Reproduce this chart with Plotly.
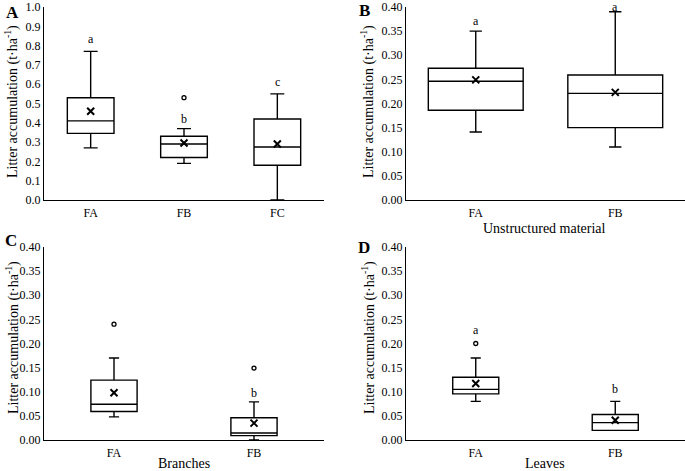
import plotly.graph_objects as go

# panel A - total litter
cats_a = ["FA", "FB", "FC"]
a_q1 = [0.345, 0.22, 0.18]
a_med = [0.41, 0.29, 0.275]
a_q3 = [0.53, 0.33, 0.42]
a_lo = [0.27, 0.19, 0.0]
a_hi = [0.77, 0.37, 0.55]
a_mean = [0.46, 0.295, 0.29]
a_out_x = ["FB"]
a_out_y = [0.53]
a_let = ["a", "b", "c"]
a_let_y = [0.835, 0.42, 0.61]

# panel B - unstructured material
cats_b = ["FA", "FB"]
b_q1 = [0.186, 0.15]
b_med = [0.246, 0.221]
b_q3 = [0.273, 0.259]
b_lo = [0.141, 0.11]
b_hi = [0.35, 0.39]
b_mean = [0.249, 0.223]
b_let = ["a", "a"]
b_let_y = [0.37, 0.40]

# panel C - branches
cats_c = ["FA", "FB"]
c_q1 = [0.059, 0.009]
c_med = [0.074, 0.0145]
c_q3 = [0.124, 0.046]
c_lo = [0.048, 0.0]
c_hi = [0.17, 0.079]
c_mean = [0.098, 0.035]
c_out_x = ["FA", "FB"]
c_out_y = [0.24, 0.149]
c_let_x = ["FB"]
c_let = ["b"]
c_let_y = [0.098]

# panel D - leaves
cats_d = ["FA", "FB"]
d_q1 = [0.0955, 0.02]
d_med = [0.105, 0.036]
d_q3 = [0.13, 0.053]
d_lo = [0.08, 0.02]
d_hi = [0.17, 0.08]
d_mean = [0.117, 0.041]
d_out_x = ["FA"]
d_out_y = [0.20]
d_let = ["a", "b"]
d_let_y = [0.228, 0.105]

FONT = "Liberation Serif"
W, H = 685, 471

fig = go.Figure()


def add_panel(n, cats, q1, med, q3, lo, hi, mean, width, ww, out_x=None, out_y=None):
    xa, ya = f"x{n}" if n > 1 else "x", f"y{n}" if n > 1 else "y"
    fig.add_trace(go.Box(x=cats, q1=q1, median=med, q3=q3, lowerfence=lo, upperfence=hi,
                         width=width, whiskerwidth=ww, fillcolor="white",
                         line=dict(color="black", width=1.4), xaxis=xa, yaxis=ya,
                         showlegend=False, hoverinfo="skip"))
    fig.add_trace(go.Scatter(x=cats, y=mean, mode="markers", xaxis=xa, yaxis=ya,
                             marker=dict(symbol="x-thin", size=7, line=dict(color="black", width=2)),
                             showlegend=False))
    if out_x:
        fig.add_trace(go.Scatter(x=out_x, y=out_y, mode="markers", xaxis=xa, yaxis=ya,
                                 marker=dict(symbol="circle-open", size=4, color="black",
                                             line=dict(width=1.3)),
                                 showlegend=False))


add_panel(1, cats_a, a_q1, a_med, a_q3, a_lo, a_hi, a_mean, 0.5, 0.3, a_out_x, a_out_y)
add_panel(2, cats_b, b_q1, b_med, b_q3, b_lo, b_hi, b_mean, 0.68, 0.13)
add_panel(3, cats_c, c_q1, c_med, c_q3, c_lo, c_hi, c_mean, 0.33, 0.22, c_out_x, c_out_y)
add_panel(4, cats_d, d_q1, d_med, d_q3, d_lo, d_hi, d_mean, 0.33, 0.22, d_out_x, d_out_y)

ytitle = "Litter accumulation (t·ha<sup>-1</sup>)"
xdom_l, xdom_r = [44 / W, 324 / W], [406 / W, 1.0]
ydom_t, ydom_b = [1 - 200 / H, 1 - 7 / H], [1 - 440 / H, 1 - 247 / H]

axis_common = dict(showline=True, linecolor="black", linewidth=1.4, showgrid=False,
                   zeroline=False, ticks="", automargin=False,
                   tickfont=dict(family=FONT, size=12, color="black"))

panels = [
    (1, xdom_l, ydom_t, cats_a, [0, 1.0], 0.1, ".1f"),
    (2, xdom_r, ydom_t, cats_b, [0, 0.40], 0.05, ".2f"),
    (3, xdom_l, ydom_b, cats_c, [0, 0.40], 0.05, ".2f"),
    (4, xdom_r, ydom_b, cats_d, [0, 0.40], 0.05, ".2f"),
]
for n, xd, yd, cats, yr, dt, fmt in panels:
    sfx = "" if n == 1 else str(n)
    fig.update_layout({
        f"xaxis{sfx}": dict(axis_common, domain=xd, anchor=f"y{sfx}", type="category",
                            categoryorder="array", categoryarray=cats,
                            range=[-0.5, len(cats) - 0.5], ticklabelstandoff=1),
        f"yaxis{sfx}": dict(axis_common, domain=yd, anchor=f"x{sfx}", range=yr, dtick=dt,
                            tick0=0, tickformat=fmt),
    })

annos = []
# significance letters
for n, cats, lets, ly in [(1, cats_a, a_let, a_let_y), (2, cats_b, b_let, b_let_y),
                          (3, c_let_x, c_let, c_let_y), (4, cats_d, d_let, d_let_y)]:
    sfx = "" if n == 1 else str(n)
    for c, t, y in zip(cats, lets, ly):
        annos.append(dict(x=c, y=y, xref=f"x{sfx}", yref=f"y{sfx}", text=t, showarrow=False,
                          yanchor="middle", font=dict(family=FONT, size=12, color="black")))

# panel letters
for t, px, py in [("A", 12, 13), ("B", 364, 11), ("C", 11, 240), ("D", 364, 247)]:
    annos.append(dict(x=px / W, y=1 - py / H, xref="paper", yref="paper", text=f"<b>{t}</b>",
                      xanchor="center", yanchor="middle", showarrow=False,
                      font=dict(family=FONT, size=17, color="black")))

# y titles
for px, py in [(12, 102), (368, 102), (12, 338), (368, 338)]:
    annos.append(dict(x=px / W, y=1 - py / H, xref="paper", yref="paper", text=ytitle,
                      textangle=-90, xanchor="center", yanchor="middle", showarrow=False,
                      font=dict(family=FONT, size=14, color="black")))

# x titles
for t, px, py in [("Unstructured material", 544, 228), ("Branches", 184, 463), ("Leaves", 545, 463)]:
    annos.append(dict(x=px / W, y=1 - py / H, xref="paper", yref="paper", text=t,
                      xanchor="center", yanchor="middle", showarrow=False,
                      font=dict(family=FONT, size=14, color="black")))

fig.update_layout(annotations=annos, width=W, height=H,
                  margin=dict(l=0, r=0, t=0, b=0), plot_bgcolor="white",
                  paper_bgcolor="white", boxmode="overlay",
                  font=dict(family=FONT, color="black"))

# page body has a default 8px margin; drop it so the figure fills the window
fig.write_html("out.html", config={"displayModeBar": False},
               post_script="document.body.style.margin='0px';")
